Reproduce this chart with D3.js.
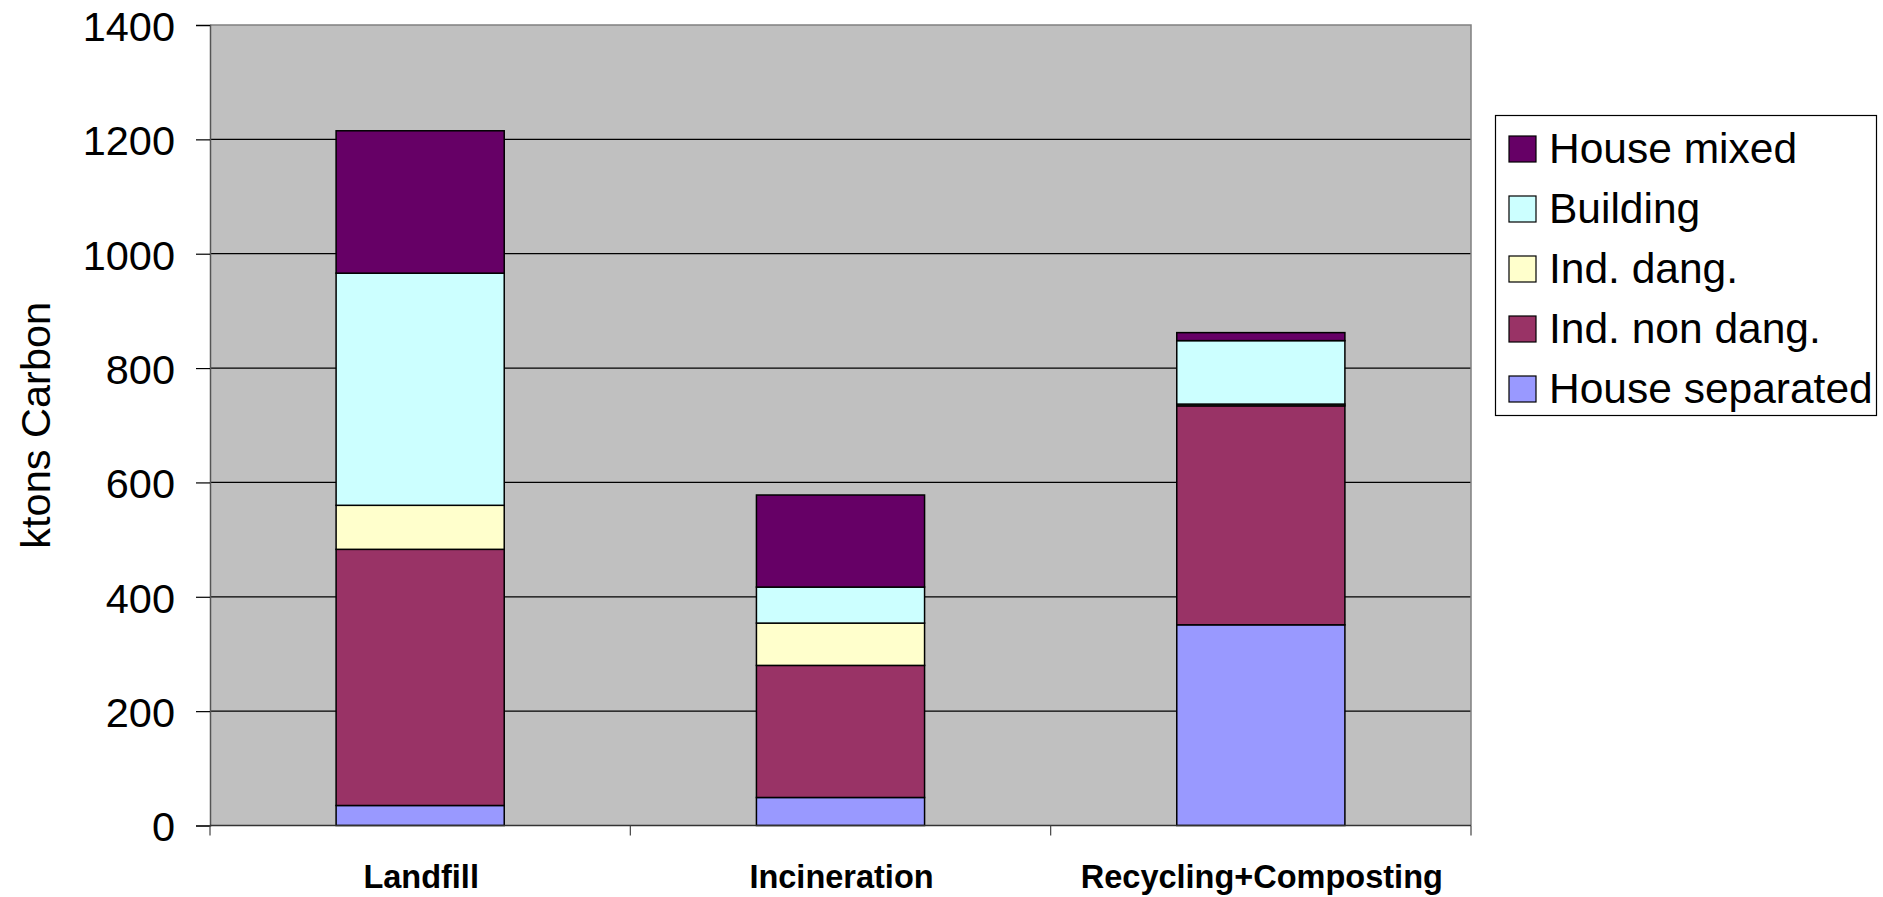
<!DOCTYPE html>
<html>
<head>
<meta charset="utf-8">
<script src="https://cdn.jsdelivr.net/npm/d3@7"></script>
<style>
  html, body { margin: 0; padding: 0; background: #ffffff; }
  svg { display: block; font-family: "Liberation Sans", Arial, sans-serif; }
</style>
</head>
<body>
<svg id="chart" width="1883" height="897"></svg>
<script>
// ---- data ----
const categories = ["Landfill", "Incineration", "Recycling+Composting"];
const seriesNames = ["House separated", "Ind. non dang.", "Ind. dang.", "Building", "House mixed"];
const houseSeparated = [35, 49, 351];
const indNonDang = [448, 231, 383];
const indDang = [77, 74, 3];
const building = [406, 63, 111];
const houseMixed = [249, 161, 14];
const yTicks = [0, 200, 400, 600, 800, 1000, 1200, 1400];
const colors = ["#9999FF", "#993366", "#FFFFCC", "#CCFFFF", "#660066"];

const table = categories.map((c, i) => ({
  category: c,
  "House separated": houseSeparated[i],
  "Ind. non dang.": indNonDang[i],
  "Ind. dang.": indDang[i],
  "Building": building[i],
  "House mixed": houseMixed[i]
}));

const svg = d3.select("#chart");
const L = 210, R = 1471, T = 25, B = 825.5;

const x = d3.scaleBand().domain(categories).range([L, R]).paddingInner(0).paddingOuter(0);
const y = d3.scaleLinear().domain([0, 1400]).range([B, T]);
const color = d3.scaleOrdinal().domain(seriesNames).range(colors);

// plot background
svg.append("rect").attr("x", L).attr("y", T).attr("width", R - L).attr("height", B - T)
  .attr("fill", "#C0C0C0");

// gridlines
svg.append("g").selectAll("line").data(yTicks.filter(v => v > 0 && v < 1400)).join("line")
  .attr("x1", L).attr("x2", R).attr("y1", d => y(d)).attr("y2", d => y(d))
  .attr("stroke", "#000").attr("stroke-width", 1.2);

// plot border (top/right grey)
svg.append("path")
  .attr("d", `M${L},${T}H${R}V${B}`)
  .attr("fill", "none").attr("stroke", "#808080").attr("stroke-width", 1.5);

// bars
const stack = d3.stack().keys(seriesNames);
const stacked = stack(table);
const barW = x.bandwidth() * 0.4;
svg.append("g").selectAll("g").data(stacked).join("g")
  .attr("fill", d => color(d.key))
  .selectAll("rect").data(d => d).join("rect")
  .attr("x", d => x(d.data.category) + (x.bandwidth() - barW) / 2)
  .attr("width", barW)
  .attr("y", d => y(d[1]))
  .attr("height", d => y(d[0]) - y(d[1]))
  .attr("stroke", "#000").attr("stroke-width", 1.5);

// y axis
const yAxis = d3.axisLeft(y).tickValues(yTicks).tickSize(14).tickPadding(21).tickFormat(d3.format("d"));
const gy = svg.append("g").attr("transform", `translate(${L},0)`).call(yAxis);
gy.select(".domain").attr("stroke", "#555").attr("stroke-width", 1.5);
gy.selectAll(".tick line").attr("stroke", "#000").attr("stroke-width", 1.2);
gy.selectAll(".tick text").attr("font-size", 41.5).attr("fill", "#000")
  .attr("font-family", "Liberation Sans, Arial, sans-serif").attr("dy", "0.37em");

// x axis line and boundary ticks
svg.append("line").attr("x1", L).attr("x2", R).attr("y1", B).attr("y2", B)
  .attr("stroke", "#333").attr("stroke-width", 1.5);
const bounds = categories.map(c => x(c)).concat([x(categories[categories.length - 1]) + x.bandwidth()]);
svg.append("g").selectAll("line").data(bounds).join("line")
  .attr("x1", d => d).attr("x2", d => d).attr("y1", B).attr("y2", B + 10)
  .attr("stroke", "#444").attr("stroke-width", 1.2);

// x labels
svg.append("g").selectAll("text").data(categories).join("text")
  .attr("x", d => x(d) + x.bandwidth() / 2 + 1)
  .attr("y", 888)
  .attr("text-anchor", "middle")
  .attr("font-size", 32.5).attr("font-weight", "bold").attr("fill", "#000")
  .text(d => d);

// y title
svg.append("text")
  .attr("transform", `translate(50,${(T + B) / 2}) rotate(-90)`)
  .attr("text-anchor", "middle")
  .attr("font-size", 41.5).attr("fill", "#000")
  .text("ktons Carbon");

// legend
const lg = svg.append("g");
lg.append("rect").attr("x", 1495.5).attr("y", 115.5).attr("width", 381).attr("height", 300)
  .attr("fill", "#fff").attr("stroke", "#000").attr("stroke-width", 1.2);
const legendOrder = seriesNames.slice().reverse();
const row = lg.selectAll("g.row").data(legendOrder).join("g")
  .attr("class", "row")
  .attr("transform", (d, i) => `translate(0,${i * 60})`);
row.append("rect").attr("x", 1509).attr("y", 136).attr("width", 27).attr("height", 26)
  .attr("fill", d => color(d)).attr("stroke", "#000").attr("stroke-width", 1.2);
row.append("text").attr("x", 1549).attr("y", 163)
  .attr("font-size", 42.5).attr("fill", "#000")
  .text(d => d);
</script>
</body>
</html>
